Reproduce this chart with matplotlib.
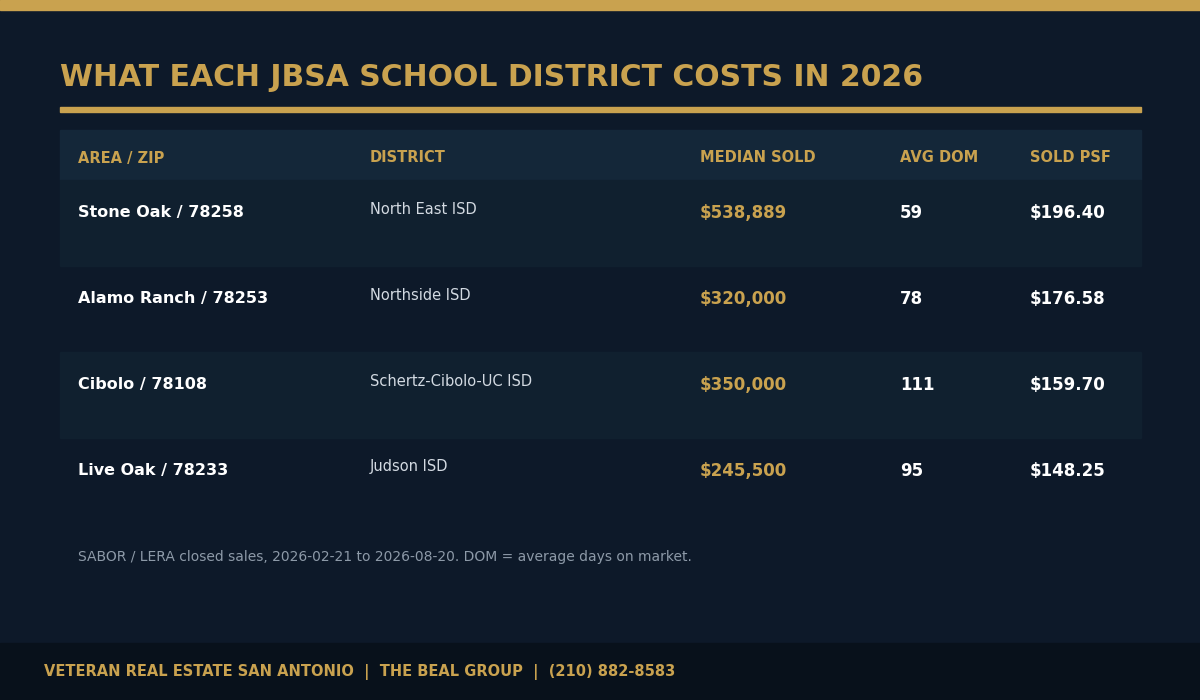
import matplotlib.pyplot as plt
from matplotlib.patches import Rectangle

plt.rcParams['font.family'] = ['DejaVu Sans']

title = "WHAT EACH JBSA SCHOOL DISTRICT COSTS IN 2026"
headers = ["AREA / ZIP", "DISTRICT", "MEDIAN SOLD", "AVG DOM", "SOLD PSF"]
areas = ["Stone Oak / 78258", "Alamo Ranch / 78253", "Cibolo / 78108", "Live Oak / 78233"]
districts = ["North East ISD", "Northside ISD", "Schertz-Cibolo-UC ISD", "Judson ISD"]
median_sold = [538889, 320000, 350000, 245500]
avg_dom = [59, 78, 111, 95]
sold_psf = [196.40, 176.58, 159.70, 148.25]
footnote = "SABOR / LERA closed sales, 2026-02-21 to 2026-08-20. DOM = average days on market."
footer = "VETERAN REAL ESTATE SAN ANTONIO  |  THE BEAL GROUP  |  (210) 882-8583"

BG = "#0d1929"
GOLD = "#c9a24f"
col_x = [78, 370, 700, 900, 1030]

fig = plt.figure(figsize=(12, 7), dpi=100)
fig.patch.set_facecolor(BG)
ax = fig.add_axes([0, 0, 1, 1])
ax.set_xlim(0, 1200)
ax.set_ylim(700, 0)
ax.axis('off')

ax.add_patch(Rectangle((0, 0), 1200, 10, color=GOLD))
ax.text(60, 78, title, color=GOLD, fontsize=21.5, fontweight='bold', va='center')
ax.add_patch(Rectangle((60, 107), 1081, 5, color=GOLD))

# header band
ax.add_patch(Rectangle((60, 130), 1081, 50, color="#142739"))
for x, h in zip(col_x, headers):
    ax.text(x, 158, h, color=GOLD, fontsize=10.5, fontweight='bold', va='center')

row_h = 86
for i in range(len(areas)):
    top = 180 + i * row_h
    if i % 2 == 0:
        ax.add_patch(Rectangle((60, top), 1081, row_h, color="#10202f"))
    y = top + 33
    ax.text(col_x[0], y, areas[i], color="white", fontsize=11.5, fontweight='bold', va='center')
    ax.text(col_x[1], y - 4, districts[i], color="#d3dae2", fontsize=10.5, va='center')
    ax.text(col_x[2], y, "${:,}".format(median_sold[i]), color=GOLD, fontsize=12,
            fontweight='bold', va='center')
    ax.text(col_x[3], y, str(avg_dom[i]), color="white", fontsize=12, fontweight='bold', va='center')
    ax.text(col_x[4], y, "${:.2f}".format(sold_psf[i]), color="white", fontsize=12,
            fontweight='bold', va='center')

ax.text(78, 557, footnote, color="#8d9aa8", fontsize=10, va='center')

ax.add_patch(Rectangle((0, 643), 1200, 57, color="#08111b"))
ax.text(44, 672, footer, color=GOLD, fontsize=10.5, fontweight='bold', va='center')

fig.savefig("out.png", dpi=100, facecolor=BG)
